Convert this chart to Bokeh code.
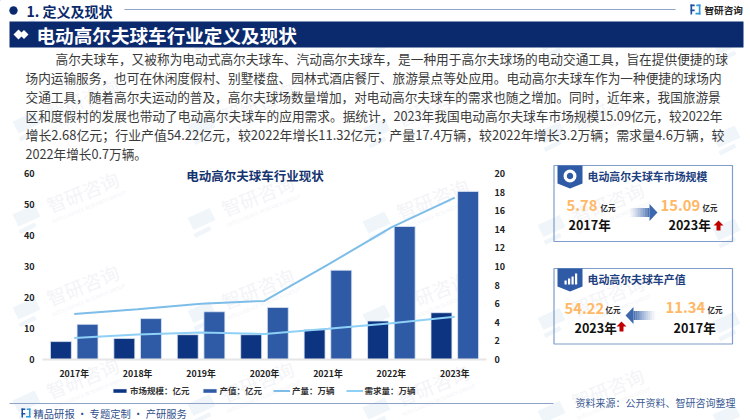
import math
from bokeh.plotting import figure
from bokeh.models import (ColumnDataSource, Range1d, FactorRange, LinearAxis, Label, PolyAnnotation,
                          Legend, LegendItem, FixedTicker)
from bokeh.transform import dodge
from bokeh.embed import file_html
from bokeh.resources import INLINE

years = ["2017年", "2018年", "2019年", "2020年", "2021年", "2022年", "2023年"]
market = [5.78, 6.8, 8.0, 8.0, 9.6, 12.41, 15.09]
output_value = [11.34, 13.2, 15.4, 16.8, 28.8, 42.9, 54.22]
production = [4.9, 5.4, 6.0, 6.3, 10.2, 14.2, 17.4]
demand = [2.3, 2.7, 2.9, 2.75, 3.3, 3.9, 4.6]

para = [
    "高尔夫球车，又被称为电动式高尔夫球车、汽动高尔夫球车，是一种用于高尔夫球场的电动交通工具，旨在提供便捷的球",
    "场内运输服务，也可在休闲度假村、别墅楼盘、园林式酒店餐厅、旅游景点等处应用。电动高尔夫球车作为一种便捷的球场内",
    "交通工具，随着高尔夫运动的普及，高尔夫球场数量增加，对电动高尔夫球车的需求也随之增加。同时，近年来，我国旅游景",
    "区和度假村的发展也带动了电动高尔夫球车的应用需求。据统计，2023年我国电动高尔夫球车市场规模15.09亿元，较2022年",
    "增长2.68亿元；行业产值54.22亿元，较2022年增长11.32亿元；产量17.4万辆，较2022年增长3.2万辆；需求量4.6万辆，较",
    "2022年增长0.7万辆。",
]
para_sizes = [12.7, 12.67, 12.65, 12.7, 12.93, 12.65]

W, H = 750, 420
L, R, T, B = 42, 264, 173, 61
FONT = "Noto Sans CJK SC"
NAVY = "#0B2A6E"
DARK_BAR = "#0D3480"
LIGHT_BAR = "#2E5AA6"
BAR_EDGE = "#DCE6F4"
LINE1 = "#7DBDE8"
LINE2 = "#8FD0F6"

ABS = {"position": "absolute", "left": "0px", "top": "0px"}

bg = figure(width=W, height=H, output_backend="svg", toolbar_location=None,
            x_range=Range1d(0, W), y_range=Range1d(H, 0), x_axis_type=None, y_axis_type=None,
            min_border=0, outline_line_color=None, border_fill_color="white", background_fill_color="white")
bg.styles = ABS
bg.grid.visible = False

p = figure(width=W, height=H, output_backend="svg", toolbar_location=None,
           x_range=FactorRange(factors=years), y_range=Range1d(0, 60),
           min_border_left=L, min_border_right=R, min_border_top=T, min_border_bottom=B,
           outline_line_color=None, border_fill_color=None, background_fill_color=None)
p.styles = ABS
p.grid.visible = False
p.extra_y_ranges = {"right": Range1d(0, 20)}


def txt(x, y, s, size, color="#333333", bold=False, align="left", angle=0, level="annotation"):
    bg.add_layout(Label(x=x, y=y, text=s,
                        text_font=FONT, text_font_size=f"{size}px", text_color=color,
                        text_font_style="bold" if bold else "normal", text_align=align,
                        text_baseline="middle", angle=angle, angle_units="deg", level=level))


def poly(xs, ys, fill, alpha=1.0, line=None, lw=1.0, level="annotation"):
    bg.add_layout(PolyAnnotation(xs=list(xs), ys=list(ys),
                                 fill_color=fill, fill_alpha=alpha,
                                 line_color=line, line_width=lw, line_alpha=1.0 if line else 0,
                                 level=level))


def rect(x0, y0, x1, y1, fill, alpha=1.0, line=None, lw=1.0, level="annotation"):
    poly([x0, x1, x1, x0], [y0, y0, y1, y1], fill, alpha, line, lw, level)


def circle(cx, cy, r, fill):
    poly([cx + r * math.cos(i * 0.3927) for i in range(16)],
         [cy + r * math.sin(i * 0.3927) for i in range(16)], fill)


def logo(x, y, s, c1, c2):
    rect(x, y, x + 5 * s, y + 2 * s, c1)
    rect(x, y, x + 2 * s, y + 12 * s, c1)
    rect(x, y + 6 * s, x + 5 * s, y + 8 * s, c1)
    rect(x + 7 * s, y, x + 12 * s, y + 2 * s, c2)
    rect(x + 10 * s, y, x + 12 * s, y + 12 * s, c2)
    rect(x + 6 * s, y + 10 * s, x + 12 * s, y + 12 * s, c2)


# watermark: marks that would run off the page keep their logo only
for row, wy in enumerate([-2, 91, 184, 277, 370]):
    for col, wx in enumerate([12, 187, 362, 537, 712]):
        yy = wy + 26 + (wx - 12) * 0.02
        poly([wx, wx + 22, wx + 28, wx + 6], [yy + 4, yy - 6, yy + 6, yy + 16], "#F0F5FA", level="underlay")
        poly([wx + 6, wx + 22, wx + 24, wx + 8], [yy + 20, yy + 12, yy + 16, yy + 24], "#F0F5FA", level="underlay")
        if row > 0 and col < 4:
            txt(wx + 70, yy - 19, "智研咨询", 19, "#F3F4F7", angle=22, align="center", level="underlay")
            txt(wx + 76, yy - 4, "INTELLIGENCE RESEARCH GROUP", 5, "#F3F4F7", angle=22, align="center", level="underlay")

# chart
src = ColumnDataSource(dict(x=years, market=market, value=output_value, production=production, demand=demand))
p.vbar(x=dodge("x", -0.21, range=p.x_range), top="market", width=0.33, source=src,
       fill_color=DARK_BAR, line_color=BAR_EDGE, line_width=0.8)
p.vbar(x=dodge("x", 0.21, range=p.x_range), top="value", width=0.33, source=src,
       fill_color=LIGHT_BAR, line_color=BAR_EDGE, line_width=0.8)
p.line(x="x", y="production", source=src, y_range_name="right", line_color=LINE1, line_width=2)
p.line(x="x", y="demand", source=src, y_range_name="right", line_color=LINE2, line_width=2)

ax_r = LinearAxis(y_range_name="right", ticker=FixedTicker(ticks=[0, 2, 4, 6, 8, 10, 12, 14, 16, 18, 20]))
p.add_layout(ax_r, "right")
p.yaxis[0].ticker = FixedTicker(ticks=[0, 10, 20, 30, 40, 50, 60])
for ax in p.yaxis:
    ax.axis_line_color = None
    ax.major_tick_line_color = None
    ax.minor_tick_line_color = None
    ax.major_tick_out = 0
    ax.major_label_text_font = FONT
    ax.major_label_text_font_size = "9px"
    ax.major_label_text_font_style = "bold"
    ax.major_label_text_color = "#222222"
    ax.major_label_standoff = 8
xa = p.xaxis[0]
xa.axis_line_color = "#E6E6E6"
xa.axis_line_width = 2
xa.major_tick_line_color = None
xa.minor_tick_line_color = None
xa.major_tick_out = 0
xa.major_label_text_font = FONT
xa.major_label_text_font_size = "8.8px"
xa.major_label_text_font_style = "bold"
xa.major_label_text_color = "#222222"
xa.major_label_standoff = 7

# legend lives on the full-page layer, because the chart layer clips to its frame;
# its key renderers hold one point placed off the page so that only the keys show
k1 = bg.vbar(x=[-100], top=[-100], bottom=[-110], width=1, fill_color=DARK_BAR, line_color=BAR_EDGE, line_width=0.5)
k2 = bg.vbar(x=[-100], top=[-100], bottom=[-110], width=1, fill_color=LIGHT_BAR, line_color=BAR_EDGE, line_width=0.5)
k3 = bg.line(x=[-100, -90], y=[-100, -100], line_color=LINE1, line_width=2)
k4 = bg.line(x=[-100, -90], y=[-100, -100], line_color=LINE2, line_width=2)
legend = Legend(items=[LegendItem(label="市场规模：亿元", renderers=[k1]),
                       LegendItem(label="产值：亿元", renderers=[k2]),
                       LegendItem(label="产量：万辆", renderers=[k3]),
                       LegendItem(label="需求量：万辆", renderers=[k4])],
                orientation="horizontal", location=(111, 24),
                background_fill_alpha=0, border_line_color=None,
                label_text_font=FONT, label_text_font_size="8.5px", label_text_font_style="bold",
                label_text_color="#333333", glyph_width=17, glyph_height=5, label_standoff=2,
                spacing=11, margin=0, padding=6, label_height=10)
bg.add_layout(legend)

# header
circle(13, 10, 4.2, NAVY)
txt(26, 10, "1. 定义及现状", 14, NAVY, True)
rect(124, 8.5, 675, 9.5, "#8FA2C8")
logo(690, 4, 0.83, "#1E4FA0", "#2E9BD8")
txt(704, 9, "智研咨询", 9.6, "#222222", True)
rect(9, 21, 743, 47, NAVY)
poly([13, 18, 23, 18], [34, 29, 34, 39], "white")
poly([19, 23.5, 28, 23.5], [34, 29.5, 34, 38.5], "white")
txt(36, 34, "电动高尔夫球车行业定义及现状", 18.6, "white", True)

# paragraph
ys = [58, 77, 96, 115, 134, 153]
for i, (line, y) in enumerate(zip(para, ys)):
    txt(55 if i == 0 else 25, y, line, para_sizes[i], "#3A3A3A")

txt(254.5, 175, "电动高尔夫球车行业现状", 12.5, "#14336F", True, "center")

# footer
rect(9, 402.6, 553, 403.6, "#8FA2C8")
logo(21, 408, 0.75, "#1E4FA0", "#2E9BD8")
txt(33, 413, "精品研报 · 专题定制 · 产研服务", 10.3, "#2F4F8C")
txt(575, 402, "资料来源：公开资料、智研咨询整理", 10, "#3B5A94")

# KPI boxes
BORDER = "#7F9CCB"
TAG = "#2E5AA6"
ORANGE = "#FFB866"


def box(y0, y1, title):
    rect(553.5, y0, 732, y1, "white", 0.0, BORDER, 1.2)
    poly([557, 582, 582, 569.5, 557], [y0, y0, y0 + 18, y0 + 23, y0 + 18], TAG)
    txt(587, y0 + 10, title, 10.9, "#1E3F80", True)


def up_arrow(x, y):
    poly([x + 5, x + 10, x + 7, x + 7, x + 3, x + 3, x], [y, y + 5, y + 5, y + 10, y + 10, y + 5, y + 5], "#C00000")


def grad_arrow(x0, x1, y, direction):
    n = 12
    w = (x1 - x0 - 8) / n
    for i in range(n):
        a = ((i + 1) / n) ** 1.3 * 0.85
        if direction > 0:
            rect(x0 + i * w, y - 4.5, x0 + (i + 1) * w, y + 4.5, "#2E5AA6", a)
        else:
            rect(x1 - (i + 1) * w, y - 4.5, x1 - i * w, y + 4.5, "#2E5AA6", a)
    if direction > 0:
        poly([x1 - 8, x1, x1 - 8], [y - 8.5, y, y + 8.5], "#3E68AE")
    else:
        poly([x0 + 8, x0, x0 + 8], [y - 8.5, y, y + 8.5], "#3E68AE")


box(165, 241, "电动高尔夫球车市场规模")
circle(569.5, 175.5, 6.5, "white")
circle(569.5, 175.5, 3.2, TAG)
txt(566, 205, "5.78", 14.8, ORANGE, True)
txt(600, 207, "亿元", 7.5, "#222222", True)
txt(568, 224, "2017年", 12.6, "#111111", True)
grad_arrow(629, 657, 212, 1)
txt(660, 205, "15.09", 14.8, ORANGE, True)
txt(702, 207, "亿元", 7.5, "#222222", True)
txt(668, 224, "2023年", 12.6, "#111111", True)
up_arrow(713, 220)

box(268, 343.5, "电动高尔夫球车产值")
for bx, bh in [(564, 4), (567.5, 6), (571, 8), (574.5, 11)]:
    rect(bx, 284 - bh, bx + 2.2, 284, "white")
txt(564, 308, "54.22", 14.8, ORANGE, True)
txt(605, 309, "亿元", 7.5, "#222222", True)
txt(574, 327, "2023年", 12.6, "#111111", True)
up_arrow(616, 321)
grad_arrow(625, 655, 315, -1)
txt(665, 307, "11.34", 14.8, ORANGE, True)
txt(707, 309, "亿元", 7.5, "#222222", True)
txt(673, 327, "2017年", 12.6, "#111111", True)

open("out.html", "w").write(file_html([bg, p], INLINE))
